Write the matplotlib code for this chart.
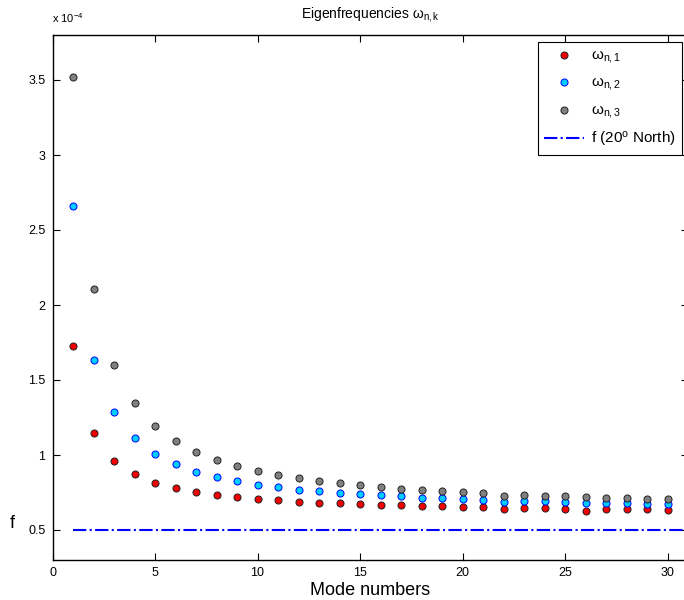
import matplotlib
matplotlib.use('Agg')
import matplotlib.pyplot as plt
from matplotlib.ticker import FormatStrFormatter

plt.rcParams['font.family'] = ['Liberation Sans', 'DejaVu Sans']
plt.rcParams['mathtext.fontset'] = 'custom'
plt.rcParams['mathtext.rm'] = 'Liberation Sans'
plt.rcParams['mathtext.it'] = 'Liberation Sans:italic'
plt.rcParams['mathtext.default'] = 'regular'

# mode numbers and eigenfrequencies (units of 1e-4 rad/s)
modes = list(range(1, 31))
omega1 = [1.73, 1.15, 0.96, 0.873, 0.813, 0.778, 0.753, 0.733, 0.720, 0.707,
          0.698, 0.689, 0.682, 0.678, 0.673, 0.669, 0.664, 0.662, 0.658, 0.655,
          0.653, 0.640, 0.647, 0.647, 0.642, 0.627, 0.638, 0.638, 0.638, 0.636]
omega2 = [2.66, 1.633, 1.285, 1.113, 1.007, 0.938, 0.889, 0.853, 0.827, 0.802,
          0.787, 0.769, 0.758, 0.749, 0.738, 0.731, 0.724, 0.716, 0.711, 0.704,
          0.700, 0.689, 0.693, 0.691, 0.687, 0.682, 0.680, 0.678, 0.673, 0.671]
omega3 = [3.52, 2.105, 1.60, 1.347, 1.196, 1.093, 1.022, 0.969, 0.929, 0.896,
          0.869, 0.847, 0.829, 0.813, 0.800, 0.787, 0.776, 0.769, 0.760, 0.751,
          0.744, 0.727, 0.733, 0.729, 0.724, 0.720, 0.716, 0.711, 0.709, 0.704]
f_lat = 0.5          # Coriolis parameter at 20 deg N
f_range = [1, 31]

W, H = 684, 600
fig = plt.figure(figsize=(W / 100, H / 100), dpi=100)
ax = fig.add_axes([52.5 / W, 40 / H, (688 - 52.5) / W, 525 / H])

ms = 26
ax.scatter(modes, omega1, s=ms, c='#f00000', edgecolors='#222222', linewidths=0.7,
           label=r'ω$_{n,1}$', zorder=3)
ax.scatter(modes, omega2, s=ms, c='#00ccff', edgecolors='#0000ff', linewidths=0.7,
           label=r'ω$_{n,2}$', zorder=3)
ax.scatter(modes, omega3, s=ms, c='#808080', edgecolors='#222222', linewidths=0.7,
           label=r'ω$_{n,3}$', zorder=3)
ax.plot(f_range, [f_lat, f_lat], color='#0000ff', linestyle='-.', linewidth=1.5,
        label=r'f (20$^o$ North)')

ax.set_xlim(0, 31)
ax.set_ylim(0.3, 3.8)
ax.set_xticks(range(0, 31, 5))
ax.set_yticks([0.5, 1, 1.5, 2, 2.5, 3, 3.5])
ax.yaxis.set_major_formatter(FormatStrFormatter('%g'))
ax.tick_params(direction='in', length=5, width=0.8, labelsize=9, top=True,
               right=True, pad=5)
for s in ax.spines.values():
    s.set_linewidth(1.0)

ax.set_title(r'Eigenfrequencies ω$_{n,k}$', fontsize=10, pad=12)
ax.set_xlabel('Mode numbers', fontsize=13, labelpad=2)
fig.text(12 / W, 1 - 523 / H, 'f', fontsize=13, ha='center', va='center')
fig.text(52 / W, 1 - 18 / H, r'x 10$^{-4}$', fontsize=8, ha='left', va='center')

leg = ax.legend(loc='upper right', bbox_to_anchor=(682 / W, 1 - 42 / H),
                bbox_transform=fig.transFigure, borderaxespad=0, fancybox=False,
                edgecolor='black', framealpha=1, fontsize=11, handlelength=2.6,
                labelspacing=0.68, borderpad=0.4, handletextpad=0.5)
leg.get_frame().set_linewidth(0.8)

fig.savefig('out.png', dpi=100)
